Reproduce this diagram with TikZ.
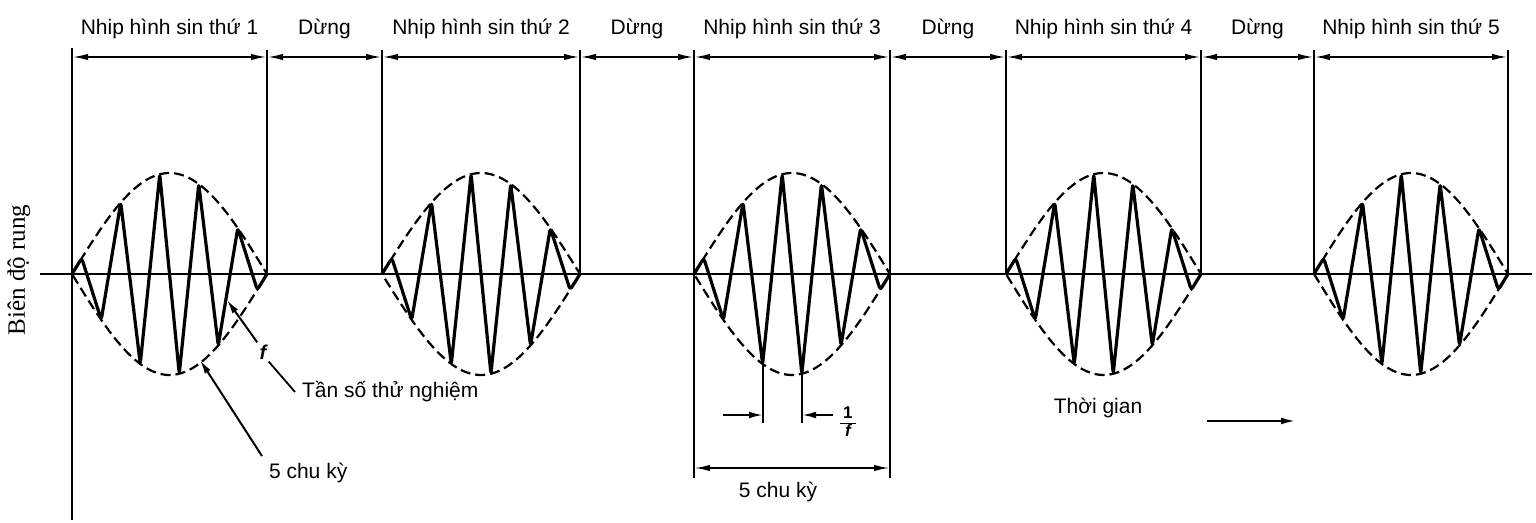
\documentclass[tikz,border=0pt]{standalone}
\usepackage{fontspec}
\setmainfont{Liberation Sans}
\newfontfamily\axisfont{Liberation Serif}
\usetikzlibrary{arrows.meta,positioning,calc}

\begin{document}
\begin{tikzpicture}[
        x=0.5pt, y=-0.5pt,
        font=\fontsize{10.5}{12}\selectfont,
        guide/.style={line width=1.2pt},
        thinguide/.style={line width=0.9pt},
        dim/.style={{Latex[length=8pt,width=3.2pt]}-{Latex[length=8pt,width=3.2pt]}, line width=1pt},
        pointer/.style={-{Latex[length=7pt,width=3.4pt]}, line width=1pt},
        envelope/.style={dash pattern=on 5pt off 2.5pt, line width=1.1pt},
        wave/.style={line width=1.6pt, line join=round, rounded corners=1.5pt}
    ]
    \useasboundingbox (0,0) rectangle (1536,523);

    % axes
    \coordinate (yaxtop) at (72,48);
    \coordinate (yaxbot) at (72,520);
    \coordinate (xaxleft) at (40,274);
    \coordinate (xaxright) at (1532,274);
    \draw[guide] (yaxtop) -- (yaxbot);
    \draw[line width=1.3pt] (xaxleft) -- (xaxright);
    \node[rotate=90, font=\axisfont\fontsize{12.5}{14}\selectfont] (ylab) at (19,270) {Biên độ rung};

    % markers on the top line
    \foreach \mx [count=\i from 0] in {72,267,382,580,694,890,1006,1201,1314,1508}
        \coordinate (m\i) at (\mx,57);
    \foreach \i in {1,2,3,6,7,8,9}
        \draw[guide] ([yshift=3.5pt]m\i) -- (m\i |- xaxleft);
    \foreach \i in {4,5}
        \draw[guide] ([yshift=3.5pt]m\i) -- ($(m\i)+(0,421)$);

    \foreach \a/\b/\txt in {0/1/Nhip hình sin thứ 1, 1/2/Dừng, 2/3/Nhip hình sin thứ 2,
            3/4/Dừng, 4/5/Nhip hình sin thứ 3, 5/6/Dừng, 6/7/Nhip hình sin thứ 4,
            7/8/Dừng, 8/9/Nhip hình sin thứ 5}
        \draw[dim] (m\a) -- node[above=5pt] (lab\a) {\txt} (m\b);

    % bursts
    \foreach \bx/\bw in {72/195, 382/198, 694/196, 1006/195, 1314/194} {
        \draw[envelope] plot[variable=\t, domain=0:1, samples=60] ({\bx+\bw*\t},{274-101*sin(180*\t)})
            -- plot[variable=\t, domain=1:0, samples=60] ({\bx+\bw*\t},{274+101*sin(180*\t)});
        \draw[wave] (\bx,274)
            \foreach \k in {0,...,9} { -- ({\bx+\bw*(0.05+0.1*\k)},{274-101*cos(180*\k)*sin(180*(0.05+0.1*\k))}) }
            -- (\bx+\bw,274);
    }

    % test frequency
    \node[font=\bfseries\itshape\fontsize{10}{12}\selectfont, inner sep=1pt] (flab) at (263,352) {f};
    \coordinate (ftip) at (227,300);
    \draw[pointer] (flab.north west) -- (ftip);
    \node[anchor=west] (freqlab) at (295,392) {Tần số thử nghiệm};
    \draw[thinguide] (flab.south east) -- (freqlab.west);

    % 5 cycles, burst 1
    \node[anchor=west] (cyc1) at (262,473) {5 chu kỳ};
    \coordinate (ctip) at (200,360);
    \draw[pointer] (cyc1.north west) -- (ctip);

    % period, burst 3
    \coordinate (trA) at (763,364);
    \coordinate (trB) at (802,374);
    \coordinate (qA) at (763,415);
    \coordinate (qB) at (802,415);
    \coordinate (qAout) at (723,415);
    \coordinate (qBout) at (833,415);
    \draw[thinguide] (trA) -- ($(qA)+(0,8)$);
    \draw[thinguide] (trB) -- ($(qB)+(0,8)$);
    \draw[pointer] (qAout) -- (qA);
    \draw[pointer] (qBout) -- (qB);
    \node[anchor=west, inner sep=1pt, font=\bfseries\fontsize{8.5}{9}\selectfont] (invf) at (838,424)
        {\renewcommand\arraystretch{0.85}\begin{tabular}{@{\,}c@{\,}}1\\\hline\itshape f\end{tabular}};

    % 5 cycles, burst 3
    \coordinate (dA) at (694,468);
    \coordinate (dB) at (890,468);
    \draw[dim] (dA) -- (dB);
    \node (cyc3) at (778,492) {5 chu kỳ};

    % time
    \node (timelab) at (1098,408) {Thời gian};
    \coordinate (tA) at (1207,421);
    \coordinate (tB) at (1295,421);
    \draw[pointer] (tA) -- (tB);
\end{tikzpicture}
\end{document}
